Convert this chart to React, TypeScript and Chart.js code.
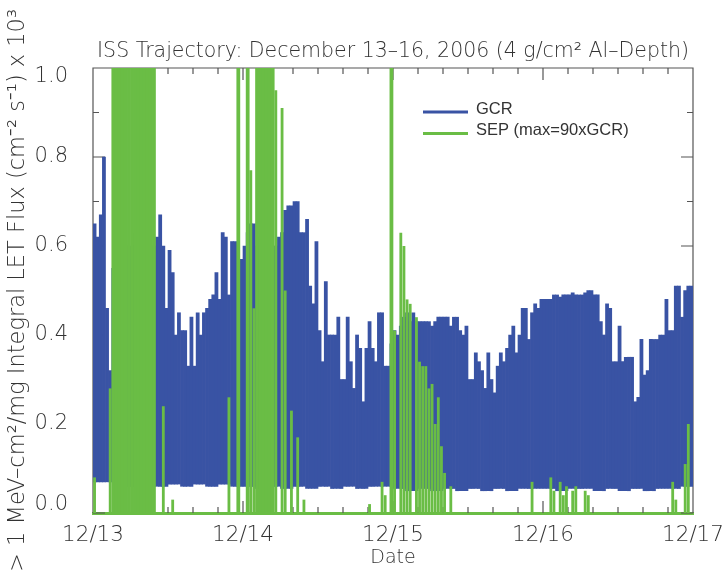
import React, { useEffect, useRef } from "react";
import { Chart, registerables } from "chart.js";

Chart.register(...registerables);

// Time axis: hours since 12/13 00:00, binned in half hours.
const BIN_HOURS = 0.5;
const dayLabels = ["12/13", "12/14", "12/15", "12/16", "12/17"];
const hourTickStep = 4;
const fluxMinorStep = 0.1;

// GCR flux peak in each half-hour bin (x 10^3 cm^-2 s^-1)
const gcrPeak = [
  0.65, 0.62, 0.67, 0.8, 0.46, 0.32, 0.55, 0.6, 0.58, 0.62, 0.6, 0.57, 0.6, 0.63, 0.6, 0.58,
  0.6, 0.62, 0.55, 0.6, 0.62, 0.67, 0.6, 0.46, 0.59, 0.54, 0.4, 0.45, 0.41, 0.41, 0.33, 0.44,
  0.33, 0.45, 0.4, 0.45, 0.46, 0.48, 0.49, 0.54, 0.48, 0.63, 0.62, 0.49, 0.61, 0.61, 0.56, 0.57,
  0.6, 0.63, 0.65, 0.65, 0.6, 0.62, 0.58, 0.6, 0.62, 0.6, 0.6, 0.62, 0.63, 0.68, 0.69, 0.69,
  0.7, 0.7, 0.63, 0.63, 0.66, 0.51, 0.47, 0.61, 0.41, 0.34, 0.52, 0.4, 0.4, 0.4, 0.44, 0.3,
  0.3, 0.44, 0.34, 0.28, 0.4, 0.37, 0.25, 0.37, 0.43, 0.37, 0.34, 0.45, 0.45, 0.33, 0.33, 0.38,
  0.41, 0.4, 0.42, 0.44, 0.45, 0.43, 0.45, 0.43, 0.43, 0.43, 0.43, 0.43, 0.42, 0.43, 0.44, 0.44,
  0.44, 0.44, 0.42, 0.44, 0.44, 0.41, 0.4, 0.42, 0.3, 0.3, 0.36, 0.34, 0.32, 0.28, 0.36, 0.3,
  0.27, 0.33, 0.36, 0.34, 0.37, 0.4, 0.42, 0.36, 0.4, 0.46, 0.46, 0.39, 0.45, 0.47, 0.46, 0.48,
  0.48, 0.48, 0.48, 0.49, 0.49, 0.485, 0.49, 0.49, 0.49, 0.495, 0.49, 0.49, 0.49, 0.495, 0.5, 0.5,
  0.49, 0.49, 0.43, 0.4, 0.47, 0.46, 0.34, 0.34, 0.42, 0.34, 0.35, 0.35, 0.35, 0.25, 0.26, 0.39,
  0.31, 0.32, 0.39, 0.39, 0.39, 0.4, 0.4, 0.48, 0.41, 0.41, 0.51, 0.51, 0.44, 0.5, 0.51, 0.51,
];

// GCR lower edge, one value per 2 hours
const gcrFloor = [
  0.07, 0.07, 0.06, 0.06, 0.06, 0.06, 0.065, 0.06, 0.065, 0.06, 0.065, 0.06,
  0.06, 0.055, 0.06, 0.055, 0.06, 0.055, 0.06, 0.055, 0.06, 0.055, 0.06, 0.06,
  0.055, 0.05, 0.055, 0.05, 0.055, 0.05, 0.055, 0.05, 0.055, 0.05, 0.055, 0.055,
  0.055, 0.05, 0.055, 0.055, 0.05, 0.055, 0.05, 0.055, 0.05, 0.055, 0.055, 0.06,
];

// SEP flux: half-hour bins that carry any signal, and the flux in them.
// Values above 1.0 run off the top of the axis.
const sepBin = [
  0, 5, 6, 7, 8, 9, 10, 11, 12, 13, 14, 15, 16, 17, 18, 19, 22, 25, 43, 46, 49, 50, 51,
  52, 53, 54, 55, 56, 57, 58, 60, 61, 63, 65, 67, 88, 92, 93, 95, 96, 98, 99, 100, 101,
  103, 104, 105, 106, 107, 108, 109, 110, 111, 112, 114, 140, 146, 147, 149, 150, 151,
  153, 154, 157, 158, 185, 186, 189, 190,
];
const sepFlux = [
  0.08, 0.28, 6.5, 12, 18, 24, 30, 33, 35, 31, 27, 22, 18, 14, 9, 4.5, 0.24, 0.03, 0.26, 2.2,
  1.6, 0.77, 0.46, 3.4, 4.1, 3.8, 2.9, 2.5, 1.9, 0.95, 0.91, 0.5, 0.23, 0.17, 0.03, 0.02, 0.07,
  0.04, 8.5, 0.41, 0.63, 0.6, 0.48, 0.47, 0.44, 0.34, 0.33, 0.33, 0.28, 0.29, 0.2, 0.26, 0.15,
  0.09, 0.06, 0.07, 0.08, 0.05, 0.07, 0.04, 0.06, 0.05, 0.06, 0.05, 0.04, 0.07, 0.03, 0.11, 0.2,
];

const GCR_COLOR = "#3953a4";
const SEP_COLOR = "#6abd45";
const INK = "#333333";
const FONT = '"DejaVu Sans", sans-serif';

const binCenter = (i: number) => (i + 0.5) * BIN_HOURS;
const perTwoHours = (arr: number[], i: number) => arr[Math.floor((i * BIN_HOURS) / 2)];

const framePlugin = {
  id: "frameAndText",
  beforeDatasetsDraw(chart: any) {
    const { ctx, chartArea: a, scales } = chart;
    const x = scales.x;
    const y = scales.y;
    ctx.save();
    ctx.strokeStyle = "#555555";
    ctx.lineWidth = 1.2;
    ctx.beginPath();
    ctx.moveTo(a.left, a.bottom);
    ctx.lineTo(a.left, a.top);
    ctx.lineTo(a.right, a.top);
    ctx.lineTo(a.right, a.bottom);
    for (let h = x.min; h <= x.max; h += hourTickStep) {
      const px = x.getPixelForValue(h);
      const len = h % 24 === 0 ? 12 : 6;
      ctx.moveTo(px, a.top);
      ctx.lineTo(px, a.top + len);
      ctx.moveTo(px, a.bottom);
      ctx.lineTo(px, a.bottom - len);
    }
    const steps = Math.round((y.max - y.min) / fluxMinorStep);
    for (let k = 0; k <= steps; k++) {
      const py = y.getPixelForValue(y.min + k * fluxMinorStep);
      const len = k % 2 === 0 ? 12 : 6;
      ctx.moveTo(a.left, py);
      ctx.lineTo(a.left + len, py);
      ctx.moveTo(a.right, py);
      ctx.lineTo(a.right - len, py);
    }
    ctx.stroke();
    ctx.restore();
  },
  afterDraw(chart: any) {
    const { ctx, chartArea: a, scales } = chart;
    const cx = (a.left + a.right) / 2;
    const cy = (a.top + a.bottom) / 2;
    ctx.save();
    ctx.fillStyle = INK;
    ctx.textBaseline = "middle";

    // flux tick labels, kept inside the vertical extent of the frame
    ctx.textAlign = "right";
    ctx.font = `200 21px ${FONT}`;
    scales.y.ticks.forEach((t: any) => {
      const py = scales.y.getPixelForValue(t.value);
      const ly = Math.min(Math.max(py, a.top + 9), a.bottom - 8);
      ctx.fillText(Number(t.value).toFixed(1), 68, ly);
    });

    ctx.textAlign = "center";
    ctx.font = `200 20.5px ${FONT}`;
    ctx.fillText("ISS Trajectory: December 13\u201316, 2006 (4 g/cm\u00b2 Al\u2013Depth)", cx, 52);
    ctx.font = `200 19px ${FONT}`;
    ctx.fillText("Date", cx, 558);
    ctx.save();
    ctx.translate(18, cy);
    ctx.rotate(-Math.PI / 2);
    ctx.font = `200 22.5px ${FONT}`;
    ctx.fillText(
      "> 1 MeV\u2013cm\u00b2/mg Integral LET Flux (cm\u207b\u00b2 s\u207b\u00b9) x 10\u00b3",
      0,
      0
    );
    ctx.restore();

    // legend
    const items = chart.data.datasets.filter((d: any) => d.legendEntry);
    items.sort((p: any, q: any) => p.legendEntry - q.legendEntry);
    ctx.textAlign = "left";
    ctx.font = `16.5px "Liberation Sans", sans-serif`;
    items.forEach((d: any, k: number) => {
      const ly = 112 + k * 21.5;
      ctx.strokeStyle = d.backgroundColor;
      ctx.lineWidth = 3;
      ctx.beginPath();
      ctx.moveTo(423, ly);
      ctx.lineTo(468, ly);
      ctx.stroke();
      ctx.fillStyle = INK;
      ctx.fillText(d.label, 476, ly - 3);
    });
    ctx.restore();
  },
};

export default function App() {
  const ref = useRef<HTMLCanvasElement | null>(null);

  useEffect(() => {
    if (!ref.current) return;

    const gcrData = gcrPeak.map((p, i) => ({
      x: binCenter(i),
      y: [perTwoHours(gcrFloor, i), p],
    }));
    const sepOffScale: any[] = [];
    const sepOnScale: any[] = [];
    sepBin.forEach((b, k) => {
      const pt = { x: binCenter(b), y: [0, sepFlux[k]] };
      (sepFlux[k] > 1 ? sepOffScale : sepOnScale).push(pt);
    });

    const common = {
      grouped: false,
      categoryPercentage: 1,
      borderWidth: 0,
    };

    const chart = new Chart(ref.current, {
      type: "bar",
      data: {
        datasets: [
          {
            ...common,
            label: "SEP (max=90xGCR)",
            legendEntry: 2,
            data: sepOffScale,
            backgroundColor: SEP_COLOR,
            barPercentage: 1,
          } as any,
          {
            ...common,
            label: "SEP (max=90xGCR)",
            data: sepOnScale,
            backgroundColor: SEP_COLOR,
            barPercentage: 0.9,
          } as any,
          {
            ...common,
            label: "GCR",
            legendEntry: 1,
            data: gcrData,
            backgroundColor: GCR_COLOR,
            barPercentage: 1,
          } as any,
        ],
      },
      options: {
        responsive: false,
        animation: false,
        devicePixelRatio: 1,
        events: [],
        layout: { padding: { top: 68, right: 31, left: 0, bottom: 0 } },
        plugins: {
          legend: { display: false },
          tooltip: { enabled: false },
          title: { display: false },
        },
        scales: {
          x: {
            type: "linear",
            min: 0,
            max: 96,
            offset: false,
            grid: { display: false, drawTicks: false },
            border: { display: true, color: SEP_COLOR, width: 3 },
            ticks: {
              stepSize: 24,
              padding: 10,
              maxRotation: 0,
              autoSkip: false,
              color: INK,
              font: { family: FONT, size: 21.5, weight: "200" as any },
              callback: (v: any) => dayLabels[Math.round(Number(v) / 24)],
            },
            afterFit: (s: any) => {
              s.height = 62;
              s.paddingLeft = 0;
              s.paddingRight = 0;
            },
          },
          y: {
            min: 0,
            max: 1,
            grid: { display: false, drawTicks: false },
            border: { display: false },
            ticks: {
              stepSize: 0.2,
              display: false,
            },
            afterFit: (s: any) => {
              s.width = 93;
              s.paddingTop = 0;
              s.paddingBottom = 0;
            },
          },
        },
      },
      plugins: [framePlugin],
    });

    return () => chart.destroy();
  }, []);

  return (
    <div style={{ position: "fixed", left: 0, top: 0, width: 724, height: 575, background: "#fff" }}>
      <canvas ref={ref} width={724} height={575} />
    </div>
  );
}
